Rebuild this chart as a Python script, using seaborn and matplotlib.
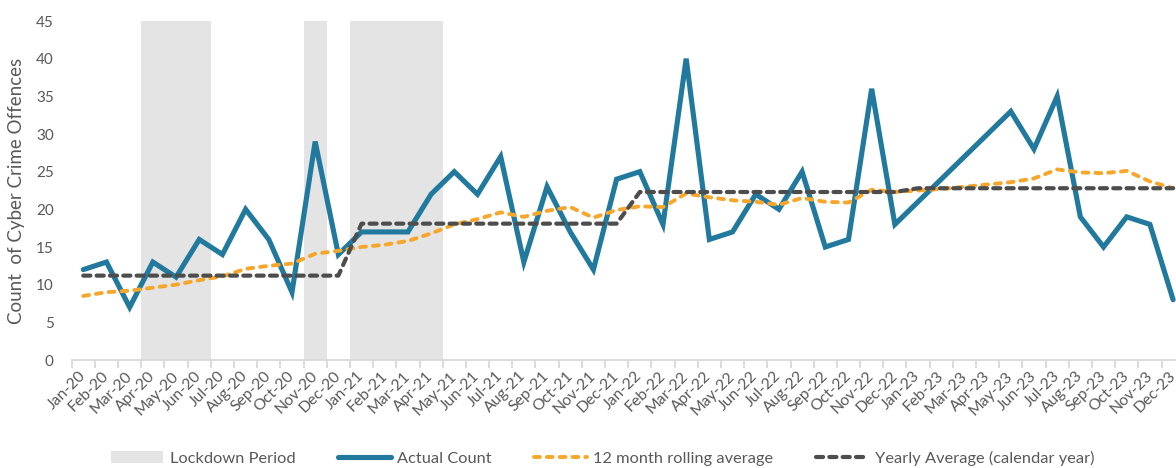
import numpy as np
import pandas as pd
import matplotlib
matplotlib.use('Agg')
import matplotlib.pyplot as plt
from matplotlib.patches import Patch
from matplotlib.lines import Line2D
import seaborn as sns

# month labels Jan-20 .. Dec-23
months = list(pd.date_range('2020-01-01', '2023-12-01', freq='MS').strftime('%b-%y'))

# monthly count of cyber crime offences
actual = [12, 13, 7, 13, 11, 16, 14, 20, 16, 9, 29, 14,
          17, 17, 17, 22, 25, 22, 27, 13, 23, 17, 12, 24,
          25, 18, 40, 16, 17, 22, 20, 25, 15, 16, 36, 18,
          21, 24, 27, 30, 33, 28, 35, 19, 15, 19, 18, 8]

# 12 month rolling average
rolling = [8.5, 9.0, 9.2, 9.6, 10.0, 10.6, 11.1, 12.1, 12.5, 12.8, 14.1, 14.5,
           15.0, 15.3, 15.8, 16.8, 18.0, 18.7, 19.6, 19.0, 19.8, 20.3, 18.9, 19.9,
           20.4, 20.3, 22.1, 21.6, 21.2, 21.0, 20.6, 21.5, 21.0, 20.9, 22.6, 22.3,
           22.5, 22.7, 23.0, 23.3, 23.6, 24.1, 25.3, 24.9, 24.8, 25.1, 23.7, 22.8]

# yearly average (calendar year) 2020..2023
yearly_avg = [11.2, 18.1, 22.3, 22.8]

lockdown_months = ['Apr-20', 'May-20', 'Jun-20', 'Nov-20',
                   'Jan-21', 'Feb-21', 'Mar-21', 'Apr-21']

df = pd.DataFrame({
    'month': months,
    'pos': np.arange(len(months)),
    'actual': actual,
    'rolling': rolling,
    'yearly': np.repeat(yearly_avg, 12),
    'lockdown': [45 if m in lockdown_months else 0 for m in months],
})

sns.set_theme(style='white')
plt.rcParams['font.family'] = ['Lato', 'DejaVu Sans']

grey_txt = '#595959'
c_lock = '#e4e4e4'
c_blue = '#217a9e'
c_orange = '#f6a72b'
c_dark = '#4d4d4d'
dash_or = (0, (1.5, 1.8))
dash_dk = (0, (1.7, 1.5))

fig = plt.figure(figsize=(11.76, 4.68), dpi=100)
ax = fig.add_axes([71.7 / 1176, 1 - 360 / 468, 1113 / 1176, 339 / 468])

sns.barplot(data=df, x='pos', y='lockdown', color=c_lock, width=1.0,
            saturation=1, linewidth=0, ax=ax)
sns.lineplot(data=df, x='pos', y='actual', color=c_blue, lw=3.7,
             solid_joinstyle='miter', ax=ax)
sns.lineplot(data=df, x='pos', y='rolling', color=c_orange, lw=2.8,
             linestyle=dash_or, dash_capstyle='round', ax=ax)
sns.lineplot(data=df, x='pos', y='yearly', color=c_dark, lw=3.0,
             linestyle=dash_dk, dash_capstyle='round', ax=ax)

ax.set_xlim(-0.5, len(months) - 0.5)
ax.set_ylim(0, 45)
ax.set_yticks(range(0, 46, 5))
ax.tick_params(axis='y', length=0, pad=13, labelsize=11, labelcolor=grey_txt)

ax.set_xticks(np.arange(len(months)))
ax.set_xticklabels(months, rotation=45, ha='right', va='center',
                   rotation_mode='anchor', fontsize=11.3, color=grey_txt)
ax.set_xticks(np.arange(len(months) + 1) - 0.5, minor=True)
ax.tick_params(axis='x', which='major', length=0, pad=10)
ax.tick_params(axis='x', which='minor', length=6, width=1.3, color='#d9d9d9',
               direction='out', bottom=True)
ax.set_xlabel('')
ax.set_ylabel('Count  of Cyber Crime Offences', fontsize=13.5, color=grey_txt,
              labelpad=8)

sns.despine(ax=ax, left=True)
ax.spines['bottom'].set_color('#d9d9d9')
ax.spines['bottom'].set_linewidth(1.3)

handles = [
    Patch(facecolor=c_lock, edgecolor='none', label='Lockdown Period'),
    Line2D([], [], color=c_blue, lw=3.7, solid_capstyle='round', label='Actual Count'),
    Line2D([], [], color=c_orange, lw=2.8, linestyle=dash_or,
           dash_capstyle='round', label='12 month rolling average'),
    Line2D([], [], color=c_dark, lw=3.0, linestyle=dash_dk,
           dash_capstyle='round', label='Yearly Average (calendar year)'),
]
leg = fig.legend(handles=handles, loc='center left', ncol=4, frameon=False,
                 bbox_to_anchor=(111 / 1176, 1 - 458 / 468), borderpad=0,
                 borderaxespad=0, fontsize=11.8, handlelength=3.2,
                 handletextpad=0.4, columnspacing=2.6)
for t in leg.get_texts():
    t.set_color(grey_txt)

fig.savefig('out.png', dpi=100)
